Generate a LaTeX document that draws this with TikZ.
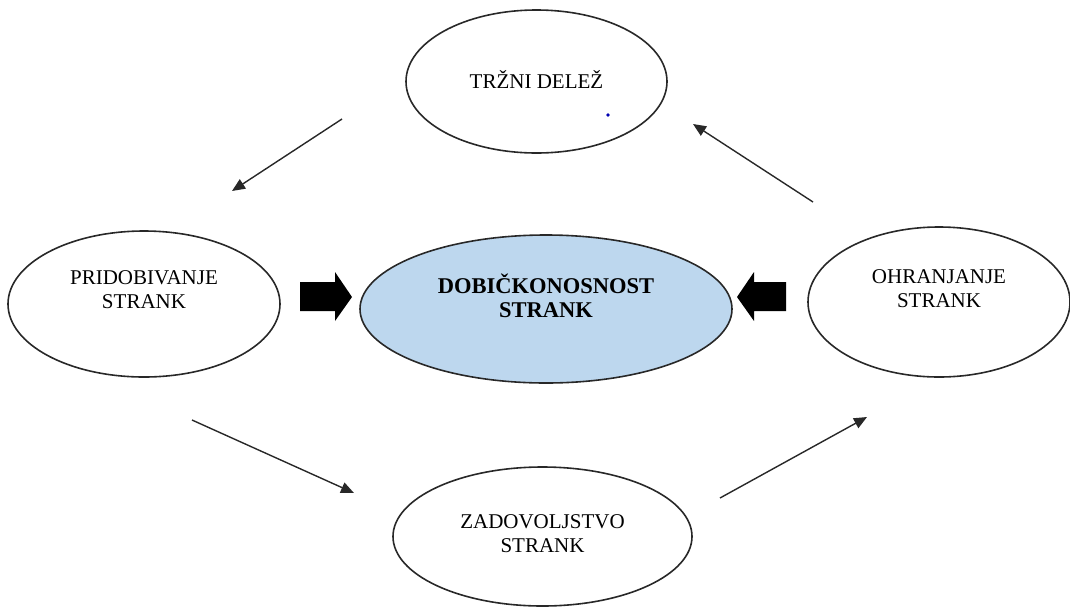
\documentclass[tikz,border=0pt]{standalone}
\usepackage{fontspec}
\setmainfont{Liberation Serif}
\usetikzlibrary{shapes.geometric,arrows.meta,calc}
\definecolor{paleblue}{RGB}{189,215,238}
\definecolor{inkgray}{RGB}{40,40,40}
\begin{document}
\begin{tikzpicture}[x=1pt,y=-1pt,
  oval/.style={ellipse, draw=inkgray, line width=1.6pt, inner sep=0pt},
  txt/.style={align=center, font=\fontsize{21}{24}\selectfont, text=black},
  boldtxt/.style={align=center, font=\fontsize{22.5}{24}\selectfont\bfseries, text=black},
  flow/.style={draw=inkgray, line width=1.4pt, -{Triangle[length=13pt,width=11pt]}},
  blockarrow/.style={fill=black}
]
\useasboundingbox (0,0) rectangle (1070,614);

% the five ellipses
\node[oval, minimum width=261pt, minimum height=143pt] (trg) at (536.5,81.5) {};
\node[oval, minimum width=272pt, minimum height=146pt] (prid) at (144,304) {};
\node[oval, fill=paleblue, minimum width=372pt, minimum height=148pt] (dob) at (546,309) {};
\node[oval, minimum width=262pt, minimum height=150pt] (ohr) at (939,302) {};
\node[oval, minimum width=299pt, minimum height=139pt] (zad) at (542.5,536.5) {};

% labels
\node[txt] (trgt) at ($(trg.center)+(0,-2)$) {TRŽNI DELEŽ};
\node[txt] (pridt) at ($(prid.center)+(0,-14)$) {PRIDOBIVANJE\\STRANK};
\node[boldtxt] (dobt) at ($(dob.center)+(0,-13)$) {DOBIČKONOSNOST\\STRANK};
\node[txt] (ohrt) at ($(ohr.center)+(0,-13)$) {OHRANJANJE\\STRANK};
\node[txt] (zadt) at ($(zad.center)+(0,-3)$) {ZADOVOLJSTVO\\STRANK};

% small blue mark inside the top ellipse
\fill[blue!70!black] (608,115) circle (1.8pt);

% cycle connectors
\coordinate (a1s) at (342,119);  \coordinate (a1e) at (232,191);
\coordinate (a2s) at (813,202);  \coordinate (a2e) at (693,124);
\coordinate (a3s) at (192,420);  \coordinate (a3e) at (354,493);
\coordinate (a4s) at (720,498);  \coordinate (a4e) at (867,417);
\draw[flow] (a1s) -- (a1e);
\draw[flow] (a2s) -- (a2e);
\draw[flow] (a3s) -- (a3e);
\draw[flow] (a4s) -- (a4e);

% thick block arrows pointing at the centre
\coordinate (bl) at (300,297);
\fill[blockarrow] (bl) ++(0,-15) -- ++(35,0) -- ++(0,-10) -- ++(17,25) -- ++(-17,24) -- ++(0,-10) -- ++(-35,0) -- cycle;
\coordinate (br) at (786,297);
\fill[blockarrow] (br) ++(0,-15) -- ++(-32,0) -- ++(0,-10) -- ++(-17,25) -- ++(17,24) -- ++(0,-10) -- ++(32,0) -- cycle;
\end{tikzpicture}
\end{document}
